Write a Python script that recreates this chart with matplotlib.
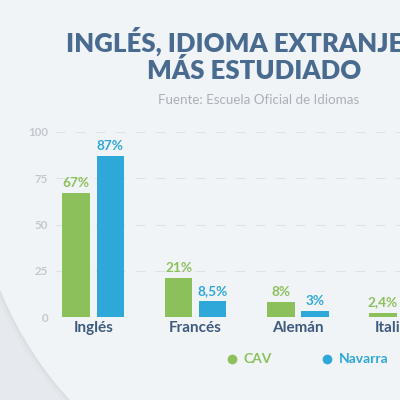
import matplotlib
matplotlib.use('Agg')
import matplotlib.pyplot as plt
from matplotlib.patches import Ellipse
import numpy as np

# ---- data ----
categories = ['Inglés', 'Francés', 'Alemán', 'Italiano']
cav = [67, 21, 8, 2.4]
navarra = [87, 8.5, 3, 1]
cav_labels = ['67%', '21%', '8%', '2,4%']
navarra_labels = ['87%', '8,5%', '3%', '1%']
yticks = [0, 25, 50, 75, 100]
series = ['CAV', 'Navarra']
title_lines = ['INGLÉS, IDIOMA EXTRANJERO', 'MÁS ESTUDIADO']
subtitle = 'Fuente: Escuela Oficial de Idiomas'

# ---- style ----
GREEN = '#8cc05b'
BLUE = '#2ea7d9'
TITLE_C = '#4a6b90'
CAT_C = '#3e5a7e'
TICK_C = '#c3c8ce'
SUB_C = '#aab0b8'
FONT = ['Lato', 'DejaVu Sans']
plt.rcParams['font.family'] = FONT

W = H = 400
fig = plt.figure(figsize=(4, 4), dpi=100)
fig.patch.set_facecolor('#e6eaee')

# background disc
bg = fig.add_axes([0, 0, 1, 1], zorder=-10)
bg.set_xlim(0, W); bg.set_ylim(H, 0); bg.axis('off')
for k, a in [(6, 0.03), (3, 0.05), (1.5, 0.07)]:
    bg.add_patch(Ellipse((260, 120), 2 * (293 + k), 2 * (368 + k),
                         color='#9aa3ad', alpha=a, lw=0))
bg.add_patch(Ellipse((260, 120), 2 * 293, 2 * 368, color='#f1f4f7', lw=0))

# main axes
ax = fig.add_axes([55 / W, 1 - 317 / H, (400 - 55) / W, (317 - 132) / H])
ax.set_facecolor('none')
ax.set_ylim(0, 100)
ax.set_xlim((55 - 95.5) / 108, (400 - 95.5) / 108)
for s in ax.spines.values():
    s.set_visible(False)

x = np.arange(len(categories))
w = 0.27
d = 0.167
for yv in yticks[1:]:
    ax.axhline(yv, color='#dde2e7', lw=0.8, ls=(0, (9, 9)), zorder=0)
ax.axhline(0, color='#d3d9df', lw=0.8, zorder=0)

ax.bar(x - d, cav, w, color=GREEN, zorder=2)
ax.bar(x + d, navarra, w, color=BLUE, zorder=2)
for xi, v, lab in zip(x, cav, cav_labels):
    ax.text(xi - d, v + 2.3, lab, ha='center', va='bottom', color=GREEN,
            fontsize=9.8, fontweight='bold', clip_on=False)
for xi, v, lab in zip(x, navarra, navarra_labels):
    ax.text(xi + d, v + 2.3, lab, ha='center', va='bottom', color=BLUE,
            fontsize=9.8, fontweight='bold', clip_on=False)

ax.set_yticks(yticks)
ax.set_yticklabels([str(t) for t in yticks])
ax.set_xticks(x)
ax.set_xticklabels(categories)
ax.tick_params(axis='y', length=0, pad=5, labelcolor=TICK_C, labelsize=8.3)
ax.tick_params(axis='x', length=0, pad=3, labelcolor=CAT_C, labelsize=11)
for t in ax.get_yticklabels():
    t.set_fontweight('bold')
for t in ax.get_xticklabels():
    t.set_fontweight('bold')

# title
renderer = fig.canvas.get_renderer()

def fit(t, target):
    for _ in range(3):
        bb = t.get_window_extent(renderer)
        t.set_fontsize(t.get_fontsize() * target / bb.width)

t1 = fig.text(254 / W, 1 - 52 / H, title_lines[0], ha='center', va='baseline',
              color=TITLE_C, fontsize=19, fontweight='heavy')
fit(t1, 374)
t2 = fig.text(254 / W, 1 - 79 / H, title_lines[1], ha='center', va='baseline',
              color=TITLE_C, fontsize=t1.get_fontsize(), fontweight='heavy')
ts = fig.text(259 / W, 1 - 104 / H, subtitle, ha='center', va='baseline',
              color=SUB_C, fontsize=7, fontweight='normal')
fit(ts, 202)

# legend
for lx, name, col in [(232, series[0], GREEN), (327, series[1], BLUE)]:
    bg.plot([lx], [359], 'o', color=col, markersize=7, markeredgewidth=0)
    bg.text(lx + 12, 359, name, ha='left', va='center', color=col,
            fontsize=10, fontweight='bold')
bg.set_zorder(-10)

fig.savefig('out.png', dpi=100, facecolor=fig.get_facecolor())
